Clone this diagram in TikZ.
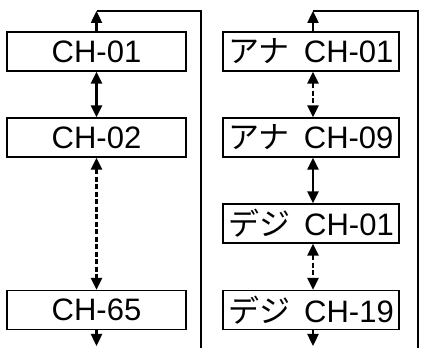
\documentclass[tikz,border=0pt]{standalone}
\usepackage{fontspec}
\setmainfont{Liberation Sans}
\newfontfamily\jp{Noto Sans CJK JP}
\usetikzlibrary{arrows.meta}
\begin{document}
\begin{tikzpicture}[x=1pt, y=1pt]
            \tikzstyle{chbox} = [draw, line width=1.4pt, inner sep=0pt, minimum height=39pt, font=\fontsize{31}{31}\selectfont]
            \tikzstyle{link} = [line width=2.4pt, -{Triangle[width=11pt, length=12pt]}]
            \tikzstyle{both} = [line width=2.4pt, {Triangle[width=11pt, length=12pt]}-{Triangle[width=11pt, length=12pt]}]
            \tikzstyle{skip} = [both, dash pattern=on 5pt off 2.5pt]
            \tikzstyle{wrap} = [line width=2.2pt]
            \useasboundingbox (0, 0) rectangle (432, 348);
            % left: channels
            \node[chbox, minimum width=179pt] (ch01) at (96.5, 296.5) {CH-01};
            \node[chbox, minimum width=179pt] (ch02) at (96.5, 210.5) {CH-02};
            \node[chbox, minimum width=179pt] (ch65) at (96.5, 38) {CH-65};
            \coordinate (ltop) at (96.5, 337);
            \coordinate (lret) at (201, 0);
            \coordinate (lend) at (96.5, 2);
            \draw[link] (ch01.north) -- (ltop);
            \draw[wrap] (ltop) -| (lret);
            \draw[both] (ch01.south) -- (ch02.north);
            \draw[skip] (ch02.south) -- (ch65.north);
            \draw[link] (ch65.south) -- (lend);
            % right: analog and digital
            \node[chbox, minimum width=176pt] (ana01) at (311, 296.5) {{\jp アナ}\hspace{0.45em}CH-01};
            \node[chbox, minimum width=176pt] (ana09) at (311, 210.5) {{\jp アナ}\hspace{0.45em}CH-09};
            \node[chbox, minimum width=176pt] (dig01) at (311, 124.5) {{\jp デジ}\hspace{0.45em}CH-01};
            \node[chbox, minimum width=176pt] (dig19) at (311, 38) {{\jp デジ}\hspace{0.45em}CH-19};
            \coordinate (rtop) at (313, 337);
            \coordinate (rret) at (418, 0);
            \coordinate (rend) at (313, 2);
            \draw[link] (ana01.north -| rtop) -- (rtop);
            \draw[wrap] (rtop) -| (rret);
            \draw[skip] (ana01.south -| rtop) -- (ana09.north -| rtop);
            \draw[both] (ana09.south -| rtop) -- (dig01.north -| rtop);
            \draw[skip] (dig01.south -| rtop) -- (dig19.north -| rtop);
            \draw[link] (dig19.south -| rtop) -- (rend);
\end{tikzpicture}
\end{document}
